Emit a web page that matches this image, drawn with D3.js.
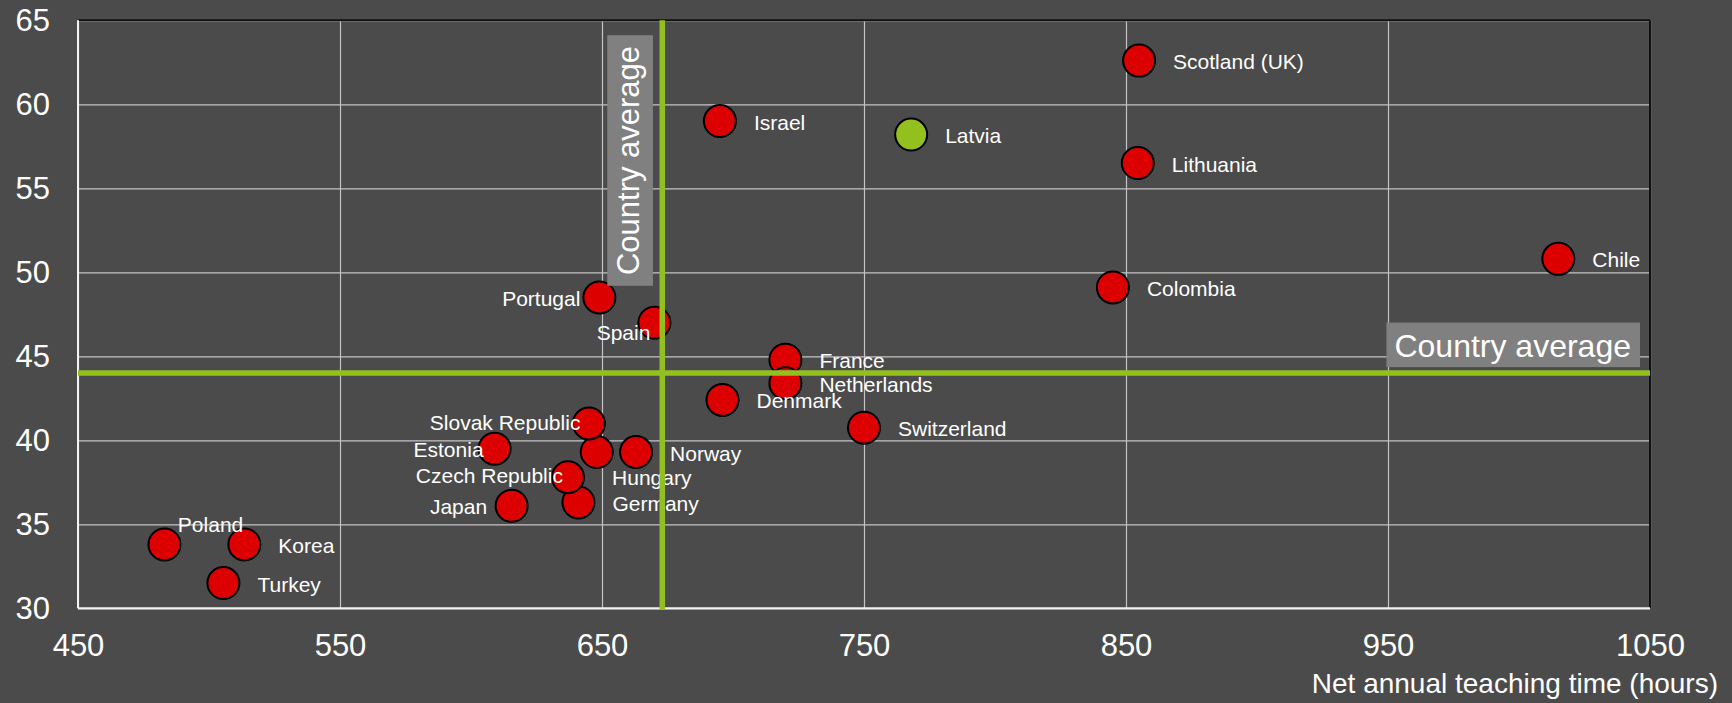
<!DOCTYPE html>
<html>
<head>
<meta charset="utf-8">
<script src="https://cdn.jsdelivr.net/npm/d3@7"></script>
<style>
  html, body { margin: 0; padding: 0; background: #4b4b4b; }
  svg { display: block; font-family: "Liberation Sans", Arial, sans-serif; }
</style>
</head>
<body>
<svg id="chart" width="1732" height="703"></svg>
<script>
// Countries and their values
const countries = ["Scotland (UK)", "Lithuania", "Chile", "Colombia", "Israel", "Latvia",
  "Portugal", "Spain", "France", "Netherlands", "Denmark", "Switzerland",
  "Hungary", "Slovak Republic", "Norway", "Germany", "Czech Republic", "Estonia",
  "Japan", "Poland", "Korea", "Turkey"];
const teachingHours = [855, 854.5, 1015, 845, 695, 768,
  649, 670, 720, 720, 696, 750,
  648, 645, 663, 641, 637, 609,
  615.5, 483, 513.5, 505.5];
const shareValues = [62.6, 56.5, 50.8, 49.1, 59.0, 58.2,
  48.5, 47.0, 44.8, 43.4, 42.4, 40.75,
  39.3, 41.0, 39.3, 36.3, 37.8, 39.5,
  36.1, 33.8, 33.8, 31.5];
const highlightedCountry = "Latvia";

// Country averages
const averageHours = 673;
const averageShare = 44.0;
const averageLabel = "Country average";

// Axes
const xTicks = [450, 550, 650, 750, 850, 950, 1050];
const yTicks = [30, 35, 40, 45, 50, 55, 60, 65];
const xTitle = "Net annual teaching time (hours)";

// Label placement around each dot: [dx, dy, anchor]
const labelPlacement = {
  "Portugal": [-19, 1, "end"],
  "Spain": [-4, 10, "end"],
  "Slovak Republic": [-8.5, -1.3, "end"],
  "Estonia": [-11, 1, "end"],
  "Czech Republic": [-5, -1.3, "end"],
  "Japan": [-24.5, 1, "end"],
  "Hungary": [15.3, 25.6, "start"],
  "Poland": [13.4, -20, "start"]
};
const defaultPlacement = [34, 1, "start"];

const W = 1732, H = 703;
const margin = { left: 78, top: 20.3, right: 82, bottom: 94.7 };
const innerW = W - margin.left - margin.right;
const innerH = H - margin.top - margin.bottom;

const RED = "#dd0000", GREEN = "#93c01f";

const svg = d3.select("#chart");
svg.append("rect").attr("width", W).attr("height", H).attr("fill", "#4b4b4b");

const g = svg.append("g").attr("transform", `translate(${margin.left},${margin.top})`);

const x = d3.scaleLinear().domain([450, 1050]).range([0, innerW]);
const y = d3.scaleLinear().domain([30, 65]).range([innerH, 0]);

// Gridlines + tick labels
const yAxis = g.append("g")
  .call(d3.axisLeft(y).tickValues(yTicks).tickSize(-innerW).tickPadding(28).tickFormat(d3.format("d")));
const xAxis = g.append("g").attr("transform", `translate(0,${innerH})`)
  .call(d3.axisBottom(x).tickValues(xTicks).tickSize(-innerH).tickPadding(26).tickFormat(d3.format("d")));
[xAxis, yAxis].forEach(a => {
  a.select(".domain").remove();
  a.selectAll(".tick line").attr("stroke", "#c4c4c4").attr("stroke-width", 1.2);
  a.selectAll(".tick text").attr("fill", "#ffffff").attr("font-size", 31)
    .attr("font-family", "'Liberation Sans', Arial, sans-serif");
});

// Frame: light left/bottom axis lines, dark top/right border
g.append("line").attr("x1", 0).attr("x2", innerW).attr("y1", 0).attr("y2", 0)
  .attr("stroke", "#111").attr("stroke-width", 2);
g.append("line").attr("x1", innerW).attr("x2", innerW).attr("y1", 0).attr("y2", innerH)
  .attr("stroke", "#111").attr("stroke-width", 2);
g.append("line").attr("x1", 0).attr("x2", 0).attr("y1", 0).attr("y2", innerH)
  .attr("stroke", "#f2f2f2").attr("stroke-width", 2);
g.append("line").attr("x1", 0).attr("x2", innerW).attr("y1", innerH).attr("y2", innerH)
  .attr("stroke", "#f2f2f2").attr("stroke-width", 2);

const data = countries.map((c, i) => ({ name: c, hours: teachingHours[i], share: shareValues[i] }));

// Dots
g.append("g").selectAll("circle").data(data).join("circle")
  .attr("cx", d => x(d.hours))
  .attr("cy", d => y(d.share))
  .attr("r", 16)
  .attr("fill", d => d.name === highlightedCountry ? GREEN : RED)
  .attr("stroke", "#000")
  .attr("stroke-width", 2);

// Country labels
g.append("g").selectAll("text").data(data).join("text")
  .each(function (d) {
    const p = labelPlacement[d.name] || defaultPlacement;
    d3.select(this)
      .attr("x", x(d.hours) + p[0])
      .attr("y", y(d.share) + p[1] + 7.5)
      .attr("text-anchor", p[2]);
  })
  .attr("fill", "#ffffff")
  .attr("font-size", 21)
  .text(d => d.name);

// Average lines
g.append("line")
  .attr("x1", x(averageHours)).attr("x2", x(averageHours))
  .attr("y1", 0).attr("y2", innerH + 1)
  .attr("stroke", GREEN).attr("stroke-width", 5.5);
g.append("line")
  .attr("x1", 0).attr("x2", innerW)
  .attr("y1", y(averageShare)).attr("y2", y(averageShare))
  .attr("stroke", GREEN).attr("stroke-width", 5.5);

// Average captions on grey boxes
const hLab = g.append("g");
const hRect = hLab.append("rect").attr("fill", "#808080");
const hText = hLab.append("text")
  .attr("x", innerW - 19)
  .attr("y", y(averageShare) - 16.3)
  .attr("text-anchor", "end")
  .attr("fill", "#ffffff")
  .attr("font-size", 32)
  .text(averageLabel);
const hb = hText.node().getBBox();
hRect.attr("x", hb.x - 8).attr("width", hb.width + 17)
  .attr("y", y(averageShare) - 50.5).attr("height", 44.5);

const vLab = g.append("g")
  .attr("transform", `translate(${x(averageHours) - 23},${(35 + 286) / 2 - margin.top}) rotate(-90)`);
const vRect = vLab.append("rect").attr("fill", "#808080");
const vText = vLab.append("text")
  .attr("x", 0).attr("y", 0)
  .attr("text-anchor", "middle")
  .attr("fill", "#ffffff")
  .attr("font-size", 31)
  .text(averageLabel);
const vb = vText.node().getBBox();
vRect.attr("x", -125.3).attr("width", 250.6)
  .attr("y", -32).attr("height", 45.7);
vText.raise();

// X axis title
svg.append("text")
  .attr("x", 1718).attr("y", 692.7)
  .attr("text-anchor", "end")
  .attr("fill", "#ffffff")
  .attr("font-size", 28)
  .text(xTitle);
</script>
</body>
</html>
